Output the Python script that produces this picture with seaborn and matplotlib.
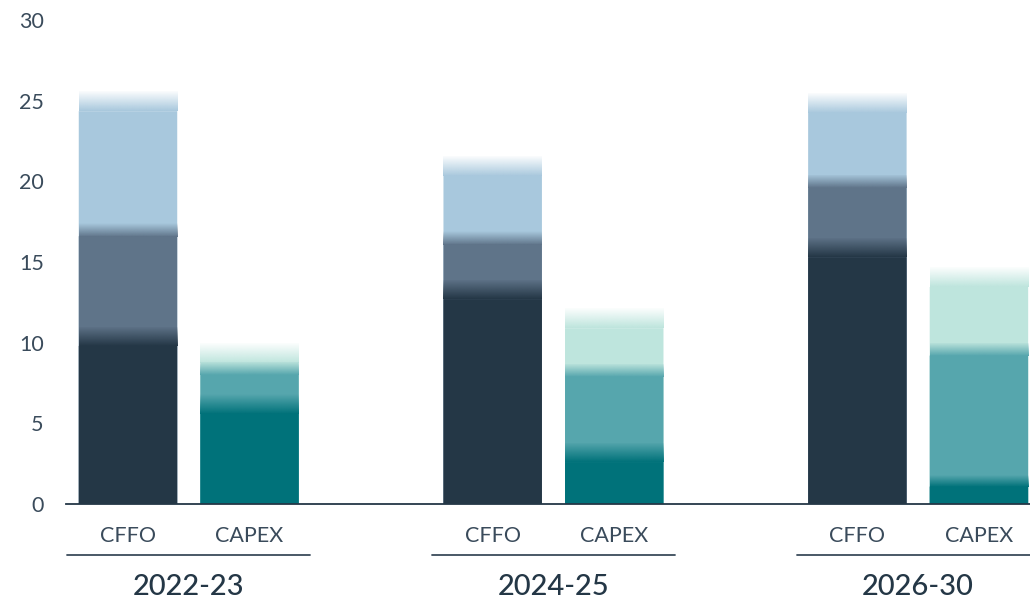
"""Stacked CFFO vs CAPEX bars with soft gradient transitions between layers."""

import matplotlib

matplotlib.use("Agg")

import matplotlib.pyplot as plt
import matplotlib.patches as mpatches
import matplotlib.transforms as mtransforms
import numpy as np
import pandas as pd
import seaborn as sns

# ---- data ----
groups = ["2022-23", "2024-25", "2026-30"]
bar_kinds = ["CFFO", "CAPEX"]

cffo_base = [11.0, 13.9, 16.5]
cffo_mid = [6.4, 3.0, 3.9]
cffo_top = [8.2, 4.7, 5.1]

capex_base = [6.8, 3.8, 1.8]
capex_mid = [2.0, 4.9, 8.2]
capex_top = [1.2, 3.45, 4.7]

y_ticks = [0, 5, 10, 15, 20, 25, 30]

# ---- style ----
TEXT = "#3a4b5b"
NAVY = "#243746"
palettes = {  # layer -> colour per bar kind
    "base": {"CFFO": "#243746", "CAPEX": "#00727a"},
    "mid": {"CFFO": "#5f7489", "CAPEX": "#56a6ad"},
    "top": {"CFFO": "#a8c8dd", "CAPEX": "#bee5dd"},
}
fades = {"top": 1.25, "mid": 0.8, "base": 1.2}  # gradient height (data units)

sns.set_theme(style="white")
plt.rcParams["font.family"] = ["Lato", "DejaVu Sans"]

rows = []
for gi, g in enumerate(groups):
    segs = {"CFFO": (cffo_base[gi], cffo_mid[gi], cffo_top[gi]),
            "CAPEX": (capex_base[gi], capex_mid[gi], capex_top[gi])}
    for bi, kind in enumerate(bar_kinds):
        b, m, t = segs[kind]
        rows.append({"group": g, "kind": kind, "pos": gi * 3 + bi,
                     "base": b, "mid": b + m, "top": b + m + t})
df = pd.DataFrame(rows)

fig = plt.figure(figsize=(10.3, 6), dpi=100)
ax = fig.add_axes([66 / 1030, 1 - 504 / 600, 1 - 66 / 1030, (504 - 20) / 600])

z = 2
for layer in ["top", "mid", "base"]:
    n_before = len(ax.patches)
    sns.barplot(data=df, x="pos", y=layer, hue="kind", palette=palettes[layer],
                native_scale=True, width=0.81, dodge=False, legend=False,
                errorbar=None, saturation=1, linewidth=0, ax=ax)
    fade = fades[layer]
    for p in list(ax.patches[n_before:]):
        h = p.get_height()
        if h <= 0:
            continue
        x0, w = p.get_x(), p.get_width()
        p.set_zorder(z)
        p.set_snap(False)
        rgb = matplotlib.colors.to_rgb(p.get_facecolor())
        f = min(fade, 0.4 * h)
        p.set_height(h - f)
        grad = np.zeros((64, 1, 4))
        grad[..., :3] = rgb
        grad[:, 0, 3] = np.linspace(0, 1, 64)
        im = ax.imshow(grad, extent=[x0 - 0.05, x0 + w + 0.05, h - f - 0.02, h],
                       origin="upper", aspect="auto", interpolation="bilinear", zorder=z)
        clip = mpatches.Rectangle((x0, 0), w, h, transform=ax.transData)
        im.set_clip_path(clip)
    z += 1

ax.set_xlim(-0.51, 7.42)
ax.set_ylim(0, 30)
ax.set_yticks(y_ticks)
ax.set_yticklabels([str(v) for v in y_ticks])
ax.set_xticks(df["pos"])
ax.set_xticklabels(df["kind"])
ax.set_xlabel("")
ax.set_ylabel("")
ax.tick_params(axis="y", length=0, pad=16, labelsize=15.5, labelcolor=TEXT)
ax.tick_params(axis="x", length=0, pad=16, labelsize=15.5, labelcolor=TEXT)

for side in ["left", "right", "top"]:
    ax.spines[side].set_visible(False)
ax.spines["bottom"].set_color(NAVY)
ax.spines["bottom"].set_linewidth(1.3)
ax.spines["bottom"].set_zorder(20)

# group underline + label
trans = mtransforms.blended_transform_factory(ax.transData, ax.transAxes)
for gi, g in enumerate(groups):
    centre = gi * 3 + 0.5
    ax.plot([centre - 1.0, centre + 1.0], [-0.105, -0.105], transform=trans,
            color=TEXT, lw=1.3, clip_on=False)
    ax.text(centre, -0.172, g, transform=trans, ha="center", va="center",
            fontsize=21, color=NAVY, fontweight="medium")

fig.savefig("out.png", dpi=100)
plt.close(fig)
